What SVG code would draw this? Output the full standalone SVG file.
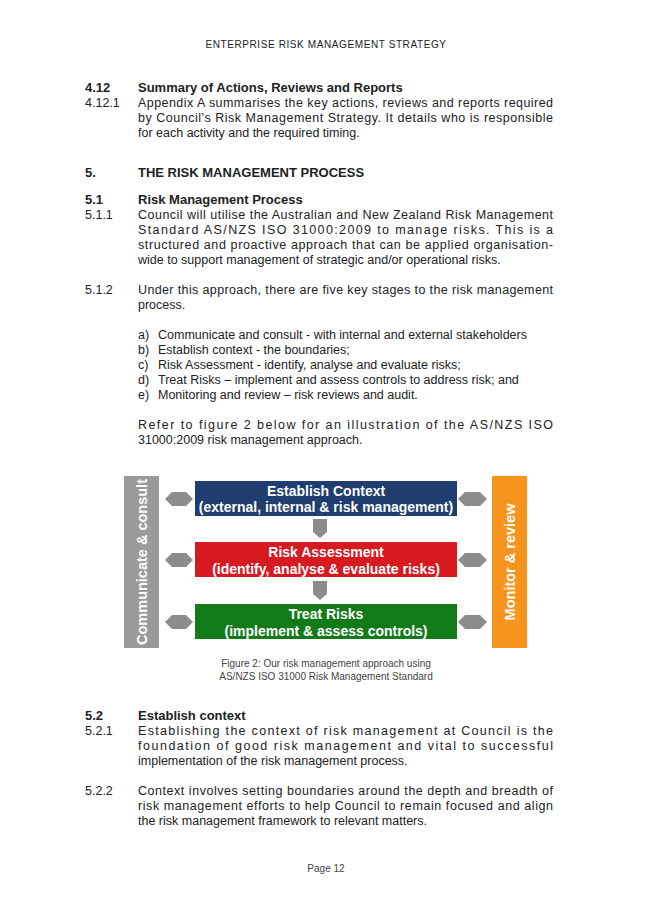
<svg xmlns="http://www.w3.org/2000/svg" width="653" height="923" viewBox="0 0 653 923">
<style>
text{font-family:"Liberation Sans",Arial,sans-serif;fill:#222;font-size:12.5px}
.b{font-weight:bold;font-size:13px}
.h{font-size:10px;letter-spacing:0.6px}
.cap{font-size:10px;fill:#444}
.bx{font-weight:bold;fill:#fff;font-size:14px;text-anchor:middle}
.vt{font-weight:bold;fill:#fff;font-size:14.5px;text-anchor:middle}
.ar{fill:#8c8c8c}
</style>
<rect width="653" height="923" fill="#fff"/>
<text class="h" x="326" y="48" text-anchor="middle">ENTERPRISE RISK MANAGEMENT STRATEGY</text>
<text class="b" x="85" y="92">4.12</text><text class="b" x="138" y="92">Summary of Actions, Reviews and Reports</text>
<text x="85" y="107">4.12.1</text>
<text x="138" y="107" textLength="415" lengthAdjust="spacing">Appendix A summarises the key actions, reviews and reports required</text>
<text x="138" y="122" textLength="415" lengthAdjust="spacing">by Council's Risk Management Strategy. It details who is responsible</text>
<text x="138" y="137">for each activity and the required timing.</text>
<text class="b" x="85" y="177">5.</text><text class="b" x="138" y="177">THE RISK MANAGEMENT PROCESS</text>
<text class="b" x="85" y="204">5.1</text><text class="b" x="138" y="204">Risk Management Process</text>
<text x="85" y="219">5.1.1</text>
<text x="138" y="219" textLength="415" lengthAdjust="spacing">Council will utilise the Australian and New Zealand Risk Management</text>
<text x="138" y="234" textLength="415" lengthAdjust="spacing">Standard AS/NZS ISO 31000:2009 to manage risks. This is a</text>
<text x="138" y="249" textLength="415" lengthAdjust="spacing">structured and proactive approach that can be applied organisation-</text>
<text x="138" y="264">wide to support management of strategic and/or operational risks.</text>
<text x="85" y="294">5.1.2</text>
<text x="138" y="294" textLength="415" lengthAdjust="spacing">Under this approach, there are five key stages to the risk management</text>
<text x="138" y="309">process.</text>
<text x="138" y="339">a)</text><text x="158" y="339">Communicate and consult - with internal and external stakeholders</text>
<text x="138" y="354">b)</text><text x="158" y="354">Establish context - the boundaries;</text>
<text x="138" y="369">c)</text><text x="158" y="369">Risk Assessment - identify, analyse and evaluate risks;</text>
<text x="138" y="384">d)</text><text x="158" y="384">Treat Risks – implement and assess controls to address risk; and</text>
<text x="138" y="399">e)</text><text x="158" y="399">Monitoring and review – risk reviews and audit.</text>
<text x="138" y="429" textLength="415" lengthAdjust="spacing">Refer to figure 2 below for an illustration of the AS/NZS ISO</text>
<text x="138" y="444">31000:2009 risk management approach.</text>

<g id="communicate">
<rect x="124" y="476" width="35" height="172" fill="#9a9a9a"/>
<text class="vt" transform="translate(147,562) rotate(-90)">Communicate &amp; consult</text>
</g>
<g id="monitor">
<rect x="492" y="476" width="35" height="172" fill="#f7941d"/>
<text class="vt" transform="translate(515,562) rotate(-90)">Monitor &amp; review</text>
</g>
<g id="establish">
<rect x="195" y="481" width="262" height="35" fill="#1f3d6e"/>
<text class="bx" x="326" y="496">Establish Context</text>
<text class="bx" x="326" y="512">(external, internal &amp; risk management)</text>
</g>
<g id="assess">
<rect x="195" y="542" width="262" height="35" fill="#d71920"/>
<text class="bx" x="326" y="557">Risk Assessment</text>
<text class="bx" x="326" y="574">(identify, analyse &amp; evaluate risks)</text>
</g>
<g id="treat">
<rect x="195" y="604" width="262" height="35" fill="#137a1a"/>
<text class="bx" x="326" y="619">Treat Risks</text>
<text class="bx" x="326" y="636">(implement &amp; assess controls)</text>
</g>
<g id="connectors">
<polygon class="ar" points="165,499 172,492 186,492 193,499 186,506 172,506"/>
<polygon class="ar" points="165,560 172,553 186,553 193,560 186,567 172,567"/>
<polygon class="ar" points="165,622 172,615 186,615 193,622 186,629 172,629"/>
<polygon class="ar" points="458,499 465,492 480,492 487,499 480,506 465,506"/>
<polygon class="ar" points="458,560 465,553 480,553 487,560 480,567 465,567"/>
<polygon class="ar" points="458,622 465,615 480,615 487,622 480,629 465,629"/>
<polygon class="ar" points="313,519 327,519 327,532 320,538 313,532"/>
<polygon class="ar" points="313,581 327,581 327,594 320,600 313,594"/>
</g>
<text class="cap" x="326" y="667" text-anchor="middle">Figure 2: Our risk management approach using</text>
<text class="cap" x="326" y="680" text-anchor="middle">AS/NZS ISO 31000 Risk Management Standard</text>

<text class="b" x="85" y="720">5.2</text><text class="b" x="138" y="720">Establish context</text>
<text x="85" y="735">5.2.1</text>
<text x="138" y="735" textLength="415" lengthAdjust="spacing">Establishing the context of risk management at Council is the</text>
<text x="138" y="750" textLength="415" lengthAdjust="spacing">foundation of good risk management and vital to successful</text>
<text x="138" y="765">implementation of the risk management process.</text>
<text x="85" y="795">5.2.2</text>
<text x="138" y="795" textLength="415" lengthAdjust="spacing">Context involves setting boundaries around the depth and breadth of</text>
<text x="138" y="810" textLength="415" lengthAdjust="spacing">risk management efforts to help Council to remain focused and align</text>
<text x="138" y="825">the risk management framework to relevant matters.</text>
<text class="cap" x="326" y="872" text-anchor="middle">Page 12</text>
</svg>
